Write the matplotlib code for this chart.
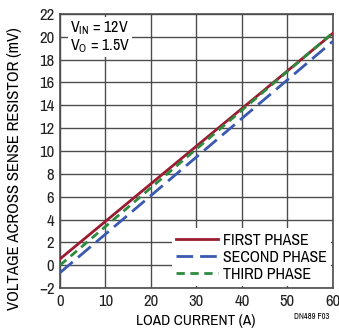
import matplotlib
matplotlib.use("Agg")
import matplotlib.pyplot as plt

plt.rcParams['font.family'] = ['Archivo Narrow', 'Liberation Sans', 'DejaVu Sans']
plt.rcParams['mathtext.fontset'] = 'custom'
plt.rcParams['mathtext.rm'] = 'Archivo Narrow'

load_current = [0, 60]
first_phase = [0.55, 20.3]
second_phase = [-0.65, 19.6]
third_phase = [0.0, 20.35]
xticks = [0, 10, 20, 30, 40, 50, 60]
yticks = list(range(-2, 23, 2))
ytick_labels = ["\u22122" if v < 0 else str(v) for v in yticks]

fig = plt.figure(figsize=(3.39, 3.30), dpi=100)
ax = fig.add_axes([0.177, 0.127, 0.805, 0.831])
ax.set_xlim(0, 60)
ax.set_ylim(-2, 22)
ax.set_xticks(xticks)
ax.set_yticks(yticks)
ax.set_yticklabels(ytick_labels)
ax.grid(True, color='#4d4d4d', linewidth=1.0)
for s in ax.spines.values():
    s.set_color('#4d4d4d')
    s.set_linewidth(1.2)
ax.tick_params(length=0, labelsize=12, colors='#222222', pad=4)

ax.plot(load_current, first_phase, color='#9b1b30', lw=2.0, label='FIRST PHASE', zorder=3)
ax.plot(load_current, second_phase, color='#3a5ab0', lw=2.0, dashes=(6, 2.5), label='SECOND PHASE', zorder=3)
ax.plot(load_current, third_phase, color='#2e8b3e', lw=2.0, dashes=(3, 2), label='THIRD PHASE', zorder=3)

leg = ax.legend(loc='lower right', fontsize=11.5, frameon=True, fancybox=False,
                edgecolor='none', framealpha=1.0, borderpad=0.3, labelspacing=0.12,
                handlelength=2.6, handletextpad=0.3, borderaxespad=0.1)
leg.get_frame().set_linewidth(0)

ax.text(2.2, 21.5, "V$_{\\mathregular{IN}}$ = 12V\nV$_{\\mathregular{O}}$ = 1.5V", fontsize=11.5,
        va='top', ha='left', linespacing=1.0,
        bbox=dict(facecolor='white', edgecolor='none', pad=1.5), zorder=4)

ax.set_xlabel("LOAD CURRENT (A)", fontsize=11)
ax.xaxis.set_label_coords(0.498, -0.093)
ax.set_ylabel("VOLTAGE ACROSS SENSE RESISTOR (mV)", fontsize=12)
ax.yaxis.set_label_coords(-0.14, 0.434)
fig.text(0.97, 0.042, "DN489 F03", fontsize=6, ha='right', va='center')

fig.savefig("out.png", dpi=100)
